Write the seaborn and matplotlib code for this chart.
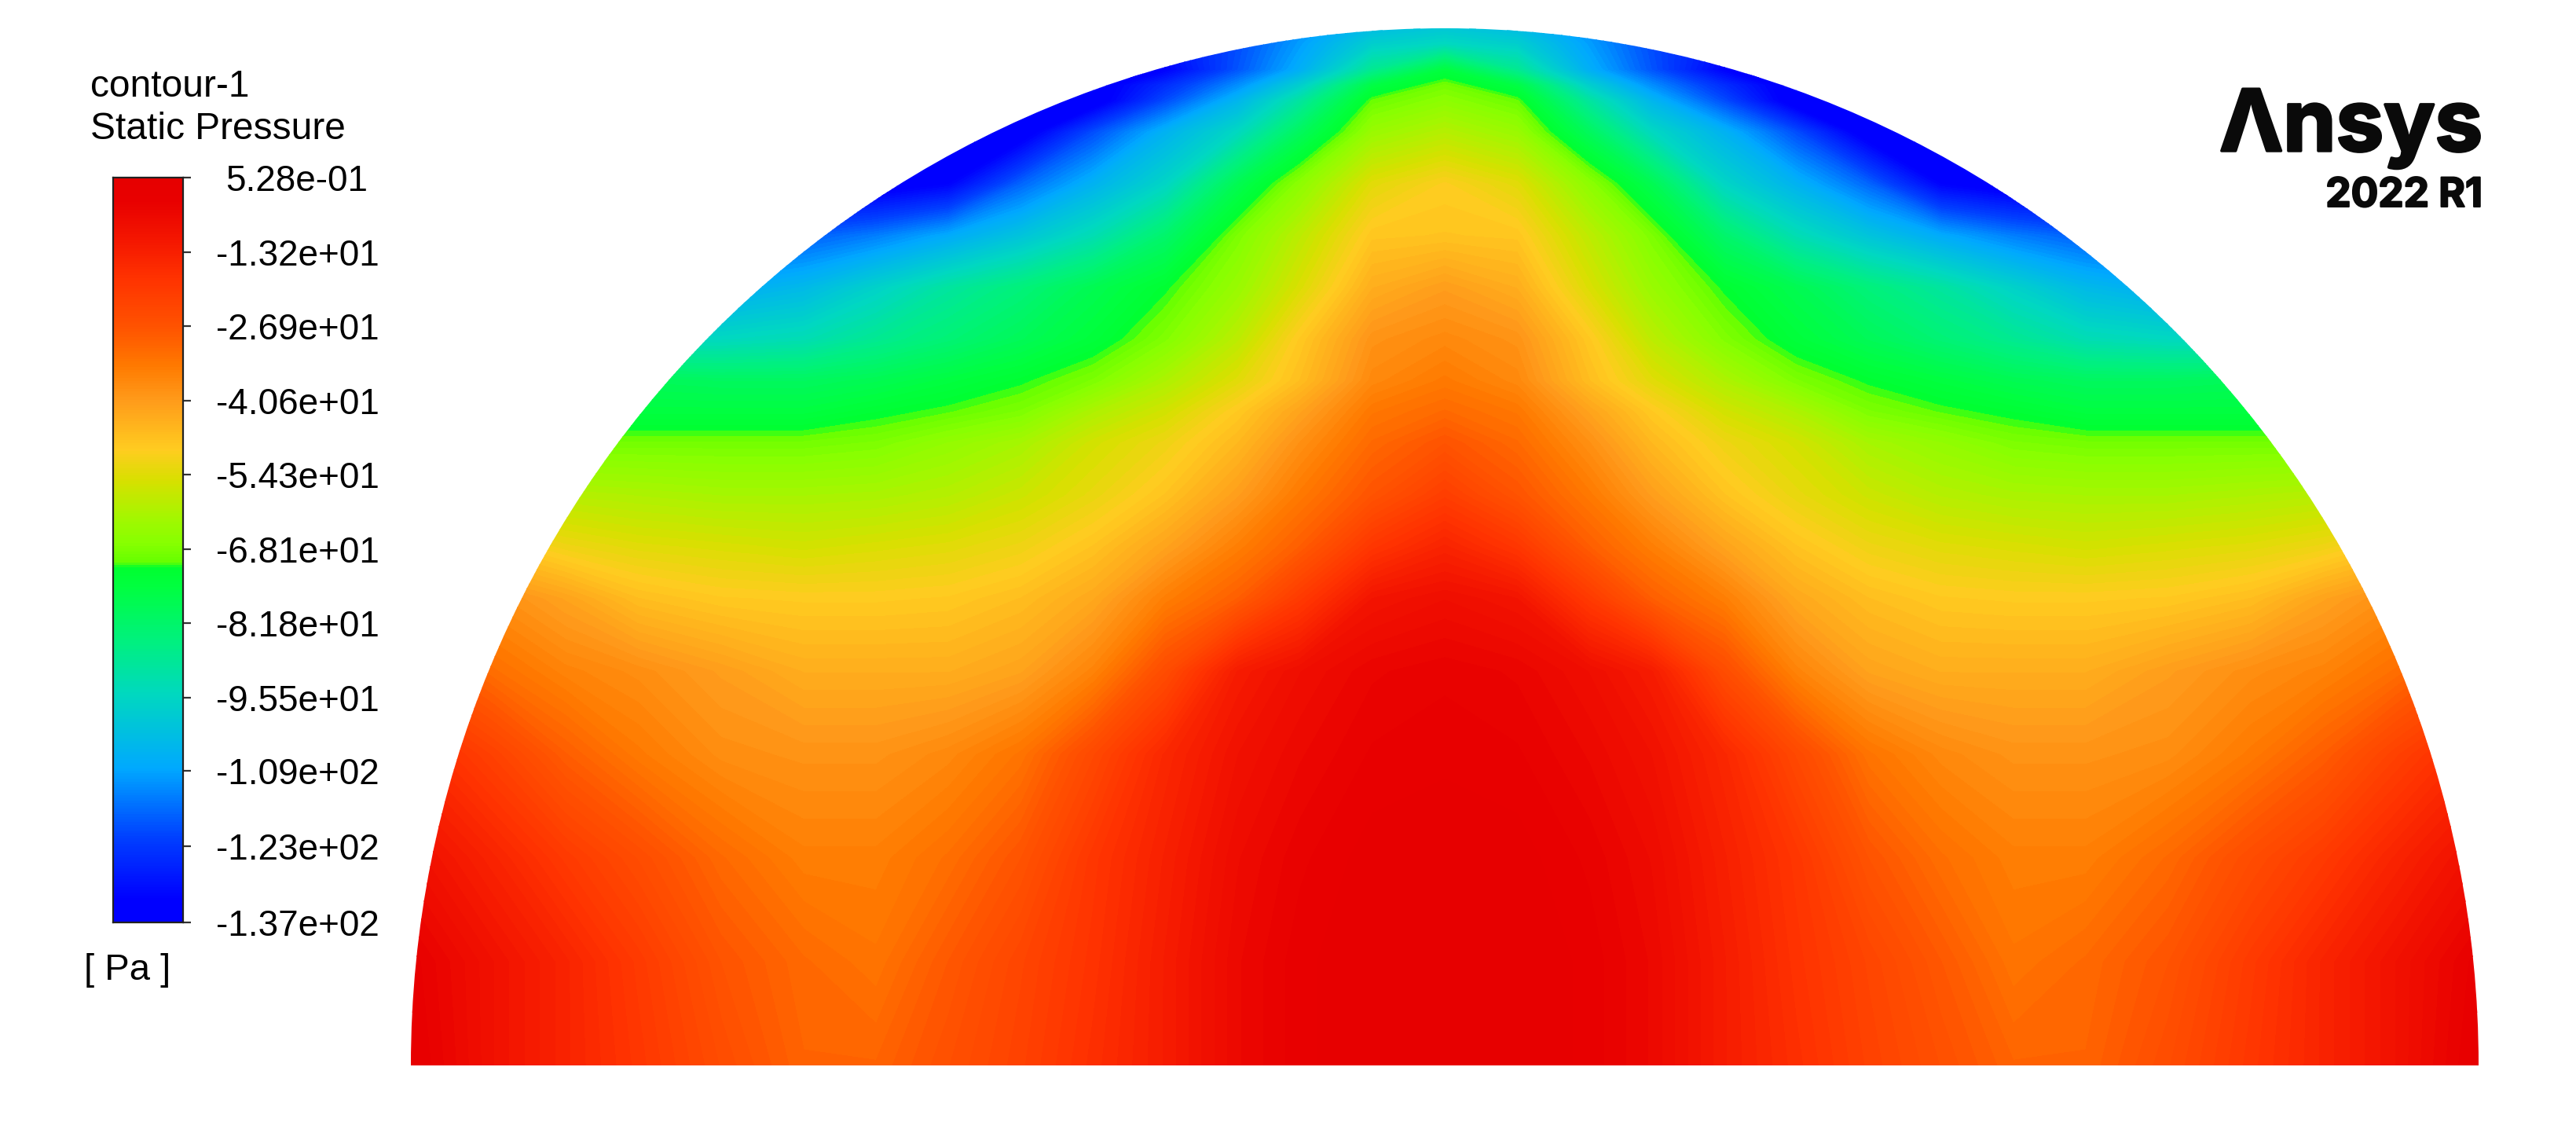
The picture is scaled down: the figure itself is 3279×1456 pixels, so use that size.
import numpy as np
import matplotlib
matplotlib.use("Agg")
import matplotlib.pyplot as plt
import matplotlib.patheffects as pe
from matplotlib.patches import Wedge
from matplotlib.transforms import ScaledTranslation
import seaborn as sns

# Static pressure [Pa], right half (mirrored for the left)
x_frac = [0, .07, .14, .2, .27, .34, .41, .48, .55, .62, .7, .78, .85, .92, 1.0]
y_frac = [0, .1, .2, .3, .38, .45, .5, .55, .6, .63, .66, .7, .75, .8, .85, .9, .93, .945, .96, .985, 1.0]
p00 = [-1, -1.5, -3, -6, -12, -17, -22, -26, -30, -30, -25, -19, -14, -9, -2]
p10 = [-1, -1.5, -3, -6, -12, -18, -23, -28, -33, -31, -27, -20, -14, -9, -3]
p20 = [-1.5, -2, -4, -7, -13, -19, -27, -32, -35, -35, -31, -25, -20, -14, -8]
p30 = [-3, -3.5, -6, -9, -15, -24, -33, -37, -39, -39, -38, -34, -29, -22, -15]
p38 = [-4, -5, -8, -12, -25, -36, -42, -44, -44, -44, -41, -38, -36, -32, -25]
p45 = [-8, -10, -20, -29, -35, -43, -47, -49, -49.5, -49.5, -49, -47, -42, -38, -34]
p50 = [-14, -19, -29, -35, -42, -48, -52, -54, -55, -56, -55, -54, -52, -48, -44]
p55 = [-21, -27, -34, -41, -48, -53, -57, -60, -61.5, -62, -62, -61, -60, -58, -54]
p60 = [-27, -31, -38.5, -46, -52, -56, -62, -65, -68, -69, -69, -69, -69, -68, -65]
p63 = [-31, -33.5, -42, -49, -56, -61, -68, -70.5, -72.5, -75, -75, -75, -75, -75, -75]
p66 = [-34, -37, -47, -54, -61, -68, -72, -75, -78, -80, -80, -79, -79, -79, -79]
p70 = [-37, -39, -49, -59, -67.5, -74, -79, -83.5, -88, -93, -95, -95, -95, -95, -95]
p75 = [-41, -44, -55, -64, -72, -78, -84.5, -90, -97, -104, -108, -108, -108, -108, -108]
p80 = [-48, -48.5, -59, -68, -82, -93, -101, -108, -114, -118, -118, -118, -118, -118, -118]
p85 = [-50, -54, -66, -78, -96, -106, -117, -133, -137, -137, -137, -137, -137, -137, -137]
p90 = [-60, -64, -80, -95, -106, -120, -137, -137, -137, -137, -137, -137, -137, -137, -137]
p93 = [-66, -70, -90, -105, -120, -137, -137, -137, -137, -137, -137, -137, -137, -137, -137]
p945 = [-69, -76, -98, -112, -125, -137, -137, -137, -137, -137, -137, -137, -137, -137, -137]
p96 = [-75, -88, -107, -119, -133, -137, -137, -137, -137, -137, -137, -137, -137, -137, -137]
p98 = [-95, -98, -110, -120, -130, -137, -137, -137, -137, -137, -137, -137, -137, -137, -137]
p100 = [-100, -103, -112, -122, -132, -137, -137, -137, -137, -137, -137, -137, -137, -137, -137]
half_rows = [p00, p10, p20, p30, p38, p45, p50, p55, p60, p63, p66, p70, p75, p80, p85, p90, p93, p945, p96, p98, p100]

tick_values = [0.528, -13.2, -26.9, -40.6, -54.3, -68.1, -81.8, -95.5, -109, -123, -137]
tick_labels = ["5.28e-01", "-1.32e+01", "-2.69e+01", "-4.06e+01", "-5.43e+01", "-6.81e+01",
               "-8.18e+01", "-9.55e+01", "-1.09e+02", "-1.23e+02", "-1.37e+02"]
title_lines = ["contour-1", "Static Pressure"]
unit_label = "[ Pa ]"

# Colour scale stops: (position from bottom of the bar, colour)
stop_pos = [0, .03, .113, .205, .305, .375, .45, .476, .484, .51, .54, .594, .635, .703, .748, .797, .865, .915, .97, 1]
stop_col = ["#0000FF", "#0000FF", "#0040FF", "#00A8FF", "#00D8C0", "#00F080", "#00FF40", "#00FF30", "#66FF00",
            "#88FF00", "#A0F800", "#D8E000", "#FFCC20", "#FF9A1A", "#FF7A00", "#FF5500", "#FF3300", "#F51800",
            "#E80000", "#E60000"]

sns.set_theme(style="white")
plt.rcParams["font.family"] = ["Liberation Sans", "DejaVu Sans"]
cmap = matplotlib.colors.LinearSegmentedColormap.from_list("fluent", list(zip(stop_pos, stop_col)), N=1024)

W, H = 3280, 1456
fig = plt.figure(figsize=(W / 100, H / 100), dpi=100, facecolor="white")

def px_axes(x0, y0, x1, y1):
    return fig.add_axes([x0 / W, 1 - y1 / H, (x1 - x0) / W, (y1 - y0) / H])

# Main half disc
ax = px_axes(523, 36, 3155, 1356)
half = np.array(half_rows, dtype=float)
full = np.hstack([half[:, :0:-1], half])
xs = np.concatenate([-np.array(x_frac[:0:-1]), x_frac])
vmin, vmax = tick_values[-1], tick_values[0]
levels = np.linspace(vmin, vmax, 131)
cs = ax.contourf(xs, y_frac, np.clip(full, vmin, vmax), levels=levels, cmap=cmap, vmin=vmin, vmax=vmax, extend="both")
clip = Wedge((0, 0), 1, 0, 180, transform=ax.transData, facecolor="none", edgecolor="none")
ax.add_patch(clip)
cs.set_clip_path(clip)
ax.set_xlim(-1, 1)
ax.set_ylim(0, 1)
ax.axis("off")

# Colour bar
cax = px_axes(144, 226, 233, 1174)
n = 275
bar = np.linspace(vmax, vmin, n).reshape(-1, 1)
sns.heatmap(bar, ax=cax, cmap=cmap, vmin=vmin, vmax=vmax, cbar=False, xticklabels=False)
for s in cax.spines.values():
    s.set_visible(True)
    s.set_color("#222222")
    s.set_linewidth(1.6)
cax.yaxis.tick_right()
cax.set_yticks([(vmax - v) / (vmax - vmin) * n for v in tick_values])
cax.set_yticklabels(tick_labels, rotation=0, fontsize=33, color="black", ha="left")
cax.tick_params(axis="y", right=True, left=False, length=7.2, width=1.6, color="#333333", pad=23)
first = cax.get_yticklabels()[0]
first.set_transform(first.get_transform() + ScaledTranslation(12 / 100, 0, fig.dpi_scale_trans))

# Title and unit
fig.text(115 / W, 1 - 123 / H, title_lines[0], fontsize=34.5, color="black", ha="left", va="baseline")
fig.text(115 / W, 1 - 177 / H, title_lines[1], fontsize=34.5, color="black", ha="left", va="baseline")
fig.text(107 / W, 1 - 1247 / H, unit_label, fontsize=34, color="black", ha="left", va="baseline")

# Logo wordmark
stroke = [pe.withStroke(linewidth=2.5, foreground="#0a0a0a")]
fig.text(3160 / W, 1 - 192 / H, "\u039bnsys", fontsize=78, fontweight="bold", family=["Inter", "DejaVu Sans"],
         color="#0a0a0a", ha="right", va="baseline", path_effects=stroke)
fig.text(3160 / W, 1 - 263 / H, "2022 R1", fontsize=37, fontweight="bold", family=["Inter", "DejaVu Sans"],
         color="#0a0a0a", ha="right", va="baseline", path_effects=[pe.withStroke(linewidth=1.5, foreground="#0a0a0a")])

fig.savefig("out.png", dpi=100, facecolor="white")
